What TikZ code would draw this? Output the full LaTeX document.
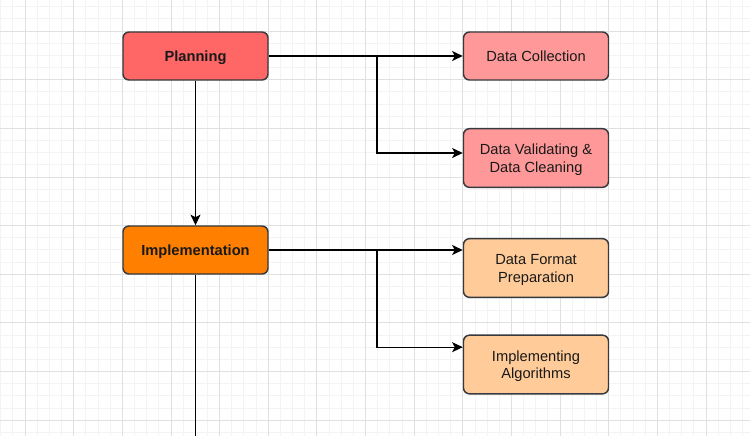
\documentclass[tikz,border=0pt]{standalone}
\usepackage{fontspec}
\setmainfont{Liberation Sans}
\usetikzlibrary{arrows.meta}
\definecolor{planred}{HTML}{FF6666}
\definecolor{datared}{HTML}{FF9999}
\definecolor{implorange}{HTML}{FF8000}
\definecolor{dataorange}{HTML}{FFCC99}
\definecolor{boxline}{HTML}{36393D}
\definecolor{gridminor}{HTML}{F3F3F3}
\definecolor{gridmajor}{HTML}{E0E0E0}
\begin{document}
\begin{tikzpicture}[x=0.75pt,y=-0.75pt,
    box/.style={draw=boxline, line width=1.1pt, rounded corners=4.5pt, align=center,
        minimum width=108.75pt, text=black!90, font=\fontsize{11}{13}\selectfont},
    phase/.style={box, minimum height=36pt, text depth=0pt, font=\fontsize{11}{13}\selectfont\bfseries},
    task/.style={box, minimum height=44pt, text height=21pt, text depth=0pt},
    link/.style={draw=black, line width=0.9pt, -{Stealth[length=8pt,width=7.5pt,inset=2pt]}}]
        \useasboundingbox (0,0) rectangle (750,436);
        \fill[white] (0,0) rectangle (750,436);

        \foreach \i in {0,...,61} \draw[gridminor, line width=0.6pt] (0.68+12.16*\i,0) -- (0.68+12.16*\i,436);
        \foreach \i in {0,...,35} \draw[gridminor, line width=0.6pt] (0,6.68+12.16*\i) -- (750,6.68+12.16*\i);
        \foreach \i in {0,...,14} \draw[gridmajor, line width=0.6pt] (25+48.64*\i,0) -- (25+48.64*\i,436);
        \foreach \i in {0,...,8} \draw[gridmajor, line width=0.6pt] (0,31+48.64*\i) -- (750,31+48.64*\i);

        \node[phase, fill=planred] (plan) at (195.5,56) {Planning};
        \node[phase, fill=implorange] (impl) at (195.5,250) {Implementation};

        \node[box, minimum height=36pt, text depth=0pt, fill=datared] (collect) at (536,56) {Data Collection};
        \node[task, fill=datared] (validate) at (536,158) {Data Validating \&\\Data Cleaning};
        \node[task, fill=dataorange] (format) at (536,268) {Data Format\\Preparation};
        \node[task, fill=dataorange] (algo) at (536,364.5) {Implementing\\Algorithms};

        \coordinate (split1) at (377,56);
        \coordinate (split2) at (377,250);
        \coordinate (bottom) at (195.5,436);

        \draw[link] (plan.east) -- (collect.west);
        \draw[link] (split1) |- ([yshift=3.75pt]validate.west);
        \draw[link] (plan.south) -- (impl.north);
        \draw[link] (impl.east) -- (format.west |- impl.east);
        \draw[link] (split2) |- ([yshift=13pt]algo.west);
        \draw[draw=black, line width=0.9pt] (impl.south) -- (bottom);
    \end{tikzpicture}
\end{document}
